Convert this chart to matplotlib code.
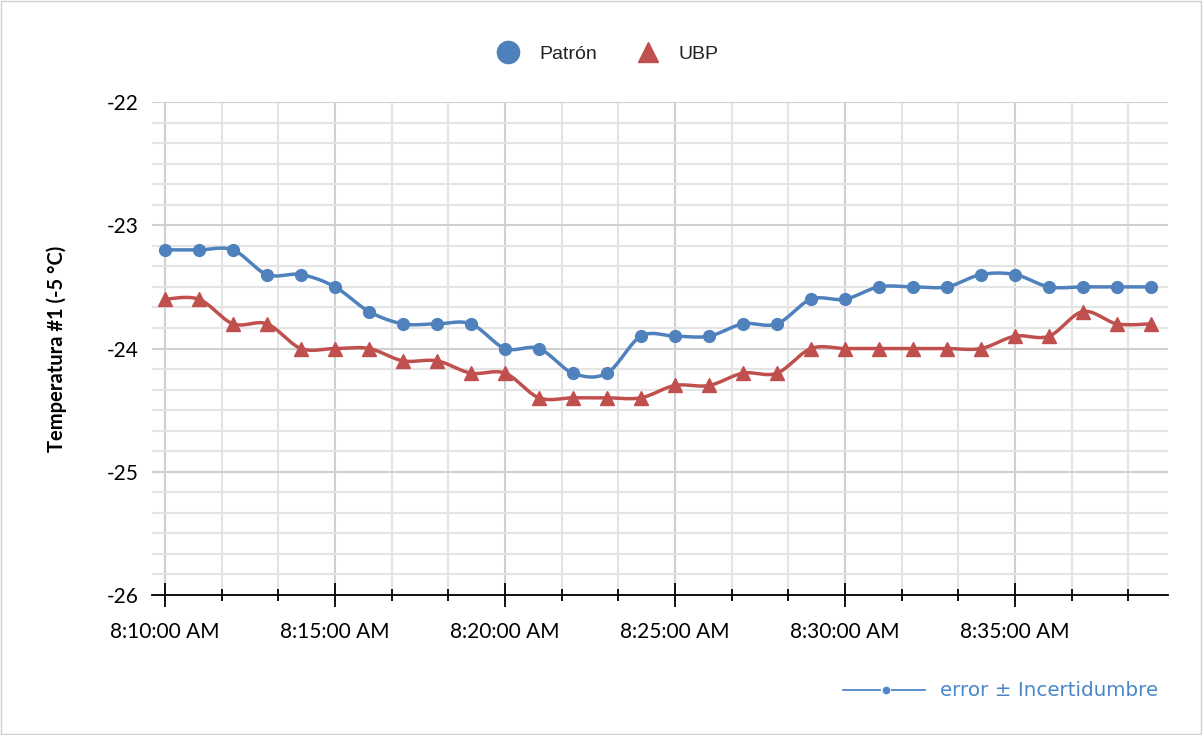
import numpy as np
import matplotlib.pyplot as plt
from matplotlib.lines import Line2D
from matplotlib.patches import Rectangle
from matplotlib.ticker import MultipleLocator, FixedLocator, FixedFormatter

times = ["8:10", "8:11", "8:12", "8:13", "8:14", "8:15", "8:16", "8:17", "8:18", "8:19",
         "8:20", "8:21", "8:22", "8:23", "8:24", "8:25", "8:26", "8:27", "8:28", "8:29",
         "8:30", "8:31", "8:32", "8:33", "8:34", "8:35", "8:36", "8:37", "8:38", "8:39"]
patron = [-23.2, -23.2, -23.2, -23.4, -23.4, -23.5, -23.7, -23.8, -23.8, -23.8,
          -24.0, -24.0, -24.2, -24.2, -23.9, -23.9, -23.9, -23.8, -23.8, -23.6,
          -23.6, -23.5, -23.5, -23.5, -23.4, -23.4, -23.5, -23.5, -23.5, -23.5]
ubp = [-23.6, -23.6, -23.8, -23.8, -24.0, -24.0, -24.0, -24.1, -24.1, -24.2,
       -24.2, -24.4, -24.4, -24.4, -24.4, -24.3, -24.3, -24.2, -24.2, -24.0,
       -24.0, -24.0, -24.0, -24.0, -24.0, -23.9, -23.9, -23.7, -23.8, -23.8]
major_labels = ["8:10:00 AM", "8:15:00 AM", "8:20:00 AM", "8:25:00 AM", "8:30:00 AM", "8:35:00 AM"]

BLUE = "#4F81BD"
RED = "#C0504D"

# minutes after 8:10
x = np.array([int(t.split(":")[1]) - 10 for t in times], dtype=float)

fig = plt.figure(figsize=(12.03, 7.35), dpi=100)
ax = fig.add_axes([0.1264, 0.1905, 0.8445, 0.6707])
ax.set_xlim(-0.38, 29.5)
ax.set_ylim(-26, -22)


def smooth(xs, ys, n=20):
    # Catmull-Rom style smoothing done in screen space, like Excel's smoothed lines
    pts = ax.transData.transform(np.column_stack([xs, ys]))
    out = [pts[0]]
    for i in range(len(pts) - 1):
        p0 = pts[max(i - 1, 0)]
        p1 = pts[i]
        p2 = pts[i + 1]
        p3 = pts[min(i + 2, len(pts) - 1)]
        b1 = p1 + (p2 - p0) / 6
        b2 = p2 - (p3 - p1) / 6
        t = np.linspace(0, 1, n)[1:, None]
        seg = ((1 - t) ** 3) * p1 + 3 * ((1 - t) ** 2) * t * b1 + 3 * (1 - t) * t ** 2 * b2 + t ** 3 * p2
        out.extend(seg)
    out = ax.transData.inverted().transform(np.array(out))
    return out[:, 0], out[:, 1]


sx, sy = smooth(x, patron)
ax.plot(sx, sy, color=BLUE, lw=2.5, zorder=3)
ax.plot(x, patron, "o", color=BLUE, ms=8.5, zorder=4)
sx, sy = smooth(x, ubp)
ax.plot(sx, sy, color=RED, lw=2.5, zorder=3)
ax.plot(x, ubp, "^", color=RED, ms=9.5, zorder=4)

# axes
ax.xaxis.set_major_locator(FixedLocator(np.arange(0, 30, 5)))
ax.xaxis.set_major_formatter(FixedFormatter(major_labels))
ax.xaxis.set_minor_locator(FixedLocator(np.arange(0, 30, 5 / 3)))
ax.yaxis.set_major_locator(MultipleLocator(1))
ax.yaxis.set_minor_locator(MultipleLocator(1 / 6))
ax.yaxis.set_major_formatter(plt.FuncFormatter(lambda v, p: f"{v:.0f}"))

ax.grid(which="major", color="#d0d0d0", lw=1.5)
ax.grid(which="minor", color="#e4e4e4", lw=1.5)
ax.set_axisbelow(True)

for s in ["left", "top", "right"]:
    ax.spines[s].set_visible(False)
ax.spines["bottom"].set_color("black")
ax.spines["bottom"].set_linewidth(1.3)
ax.tick_params(axis="x", which="major", direction="inout", length=17, width=1.3,
               labelsize=15, pad=11, colors="black")
ax.tick_params(axis="x", which="minor", direction="inout", length=8.5, width=1.3)
ax.tick_params(axis="y", which="both", length=0, labelsize=15, pad=10)
for lab in ax.get_xticklabels() + ax.get_yticklabels():
    lab.set_fontfamily("Lato")

ax.set_ylabel("Temperatura #1 (-5 °C)", fontsize=14.5, fontweight="bold",
              fontfamily="Lato", labelpad=28)

# legend at top
handles = [Line2D([], [], marker="o", ls="", color=BLUE, ms=16),
           Line2D([], [], marker="^", ls="", color=RED, ms=14)]
fig.legend(handles, ["Patrón", "UBP"], loc="center", bbox_to_anchor=(0.502, 0.926),
           ncol=2, frameon=False, prop={"family": "Liberation Sans", "size": 14},
           handletextpad=0.6, columnspacing=1.6, labelcolor="#222222")

# error note at bottom right
yy = 1 - 690 / 735
fig.add_artist(Line2D([843 / 1203, 880 / 1203], [yy, yy],
                      color="#4a86c8", lw=1.3, transform=fig.transFigure))
fig.add_artist(Line2D([892 / 1203, 925 / 1203], [yy, yy],
                      color="#4a86c8", lw=1.3, transform=fig.transFigure))
fig.add_artist(Line2D([886 / 1203], [yy], marker="o", ms=4.5,
                      color="#4a86c8", transform=fig.transFigure))
fig.text(940 / 1203, yy, "error ± Incertidumbre", color="#4a86c8",
         fontsize=14.3, fontfamily="DejaVu Sans", va="center", ha="left")

# outer border
fig.add_artist(Rectangle((0.0005, 0.001), 0.998, 0.997, fill=False, ec="#d0d0d0",
                         lw=1, transform=fig.transFigure))

fig.savefig("out.png", dpi=100)
